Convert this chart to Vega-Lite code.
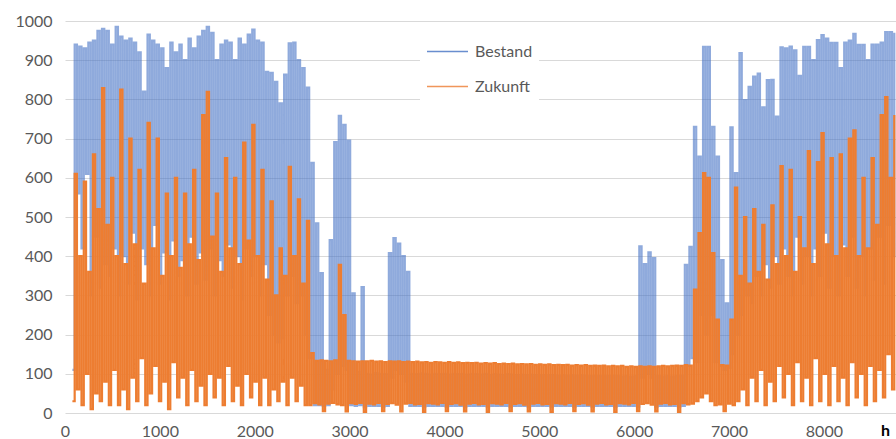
{
"$schema":"https://vega.github.io/schema/vega-lite/v6.json",
"width":831,"height":392,"autosize":"none",
"padding":{"left":65,"top":21,"right":0,"bottom":26},
"background":"white",
"config":{"view":{"stroke":null},"font":"Lato",
"axis":{"labelFont":"Lato","labelFontSize":16,"labelColor":"#595959","domain":false,"ticks":false,"gridColor":"#d9d9d9","gridWidth":1.2,"format":"d","labelOverlap":false}},
"data":{"values":[
{"h":78,"B":110,"Z":30},{"h":102,"B":940,"Z":610},{"h":126,"B":560,"Z":60},{"h":150,"B":935,"Z":400},{"h":174,"B":420,"Z":20},{"h":198,"B":930,"Z":590},{"h":222,"B":610,"Z":100},{"h":246,"B":945,"Z":360},{"h":270,"B":300,"Z":10},{"h":294,"B":950,"Z":660},
{"h":318,"B":450,"Z":50},{"h":342,"B":975,"Z":520},{"h":366,"B":320,"Z":30},{"h":390,"B":980,"Z":829},{"h":414,"B":380,"Z":80},{"h":438,"B":975,"Z":480},{"h":462,"B":350,"Z":20},{"h":486,"B":940,"Z":600},{"h":510,"B":420,"Z":110},{"h":534,"B":985,"Z":400},
{"h":558,"B":300,"Z":20},{"h":582,"B":960,"Z":825},{"h":606,"B":400,"Z":60},{"h":630,"B":950,"Z":380},{"h":654,"B":330,"Z":10},{"h":678,"B":955,"Z":700},{"h":702,"B":460,"Z":90},{"h":726,"B":945,"Z":430},{"h":750,"B":290,"Z":30},{"h":774,"B":920,"Z":620},
{"h":798,"B":420,"Z":140},{"h":822,"B":820,"Z":330},{"h":846,"B":380,"Z":20},{"h":870,"B":965,"Z":740},{"h":894,"B":300,"Z":50},{"h":918,"B":950,"Z":420},{"h":942,"B":480,"Z":120},{"h":966,"B":940,"Z":700},{"h":990,"B":330,"Z":30},{"h":1014,"B":930,"Z":350},
{"h":1038,"B":410,"Z":80},{"h":1062,"B":880,"Z":560},{"h":1086,"B":290,"Z":10},{"h":1110,"B":945,"Z":400},{"h":1134,"B":440,"Z":130},{"h":1158,"B":920,"Z":600},{"h":1182,"B":350,"Z":40},{"h":1206,"B":940,"Z":370},{"h":1230,"B":390,"Z":90},{"h":1254,"B":900,"Z":560},
{"h":1278,"B":300,"Z":20},{"h":1302,"B":955,"Z":430},{"h":1326,"B":450,"Z":110},{"h":1350,"B":930,"Z":620},{"h":1374,"B":330,"Z":30},{"h":1398,"B":960,"Z":390},{"h":1422,"B":410,"Z":70},{"h":1446,"B":975,"Z":760},{"h":1470,"B":340,"Z":20},{"h":1494,"B":985,"Z":819},
{"h":1518,"B":420,"Z":100},{"h":1542,"B":970,"Z":450},{"h":1566,"B":300,"Z":40},{"h":1590,"B":900,"Z":560},{"h":1614,"B":390,"Z":90},{"h":1638,"B":940,"Z":360},{"h":1662,"B":350,"Z":20},{"h":1686,"B":950,"Z":650},{"h":1710,"B":430,"Z":120},{"h":1734,"B":945,"Z":420},
{"h":1758,"B":320,"Z":30},{"h":1782,"B":900,"Z":600},{"h":1806,"B":400,"Z":70},{"h":1830,"B":955,"Z":380},{"h":1854,"B":290,"Z":20},{"h":1878,"B":940,"Z":690},{"h":1902,"B":420,"Z":100},{"h":1926,"B":965,"Z":440},{"h":1950,"B":350,"Z":40},{"h":1974,"B":978,"Z":735},
{"h":1998,"B":400,"Z":80},{"h":2022,"B":950,"Z":400},{"h":2046,"B":300,"Z":20},{"h":2070,"B":945,"Z":620},{"h":2094,"B":380,"Z":90},{"h":2118,"B":870,"Z":340},{"h":2142,"B":250,"Z":20},{"h":2166,"B":868,"Z":540},{"h":2190,"B":200,"Z":60},{"h":2214,"B":845,"Z":300},
{"h":2238,"B":180,"Z":30},{"h":2262,"B":790,"Z":420},{"h":2286,"B":190,"Z":80},{"h":2310,"B":863,"Z":350},{"h":2334,"B":300,"Z":20},{"h":2358,"B":943,"Z":628},{"h":2382,"B":350,"Z":90},{"h":2406,"B":945,"Z":400},{"h":2430,"B":280,"Z":30},{"h":2454,"B":900,"Z":545},
{"h":2478,"B":300,"Z":70},{"h":2502,"B":880,"Z":330},{"h":2526,"B":200,"Z":20},{"h":2550,"B":830,"Z":490},{"h":2574,"B":140,"Z":20},{"h":2598,"B":638,"Z":153},{"h":2622,"B":20,"Z":25},{"h":2646,"B":484,"Z":133},{"h":2670,"B":20,"Z":22},{"h":2694,"B":357,"Z":134},
{"h":2718,"B":18,"Z":5},{"h":2742,"B":110,"Z":133},{"h":2766,"B":20,"Z":24},{"h":2790,"B":441,"Z":132},{"h":2814,"B":60,"Z":26},{"h":2838,"B":691,"Z":134},{"h":2862,"B":100,"Z":22},{"h":2886,"B":758,"Z":378},{"h":2910,"B":120,"Z":20},{"h":2934,"B":735,"Z":250},
{"h":2958,"B":110,"Z":4},{"h":2982,"B":695,"Z":133},{"h":3006,"B":20,"Z":25},{"h":3030,"B":305,"Z":132},{"h":3054,"B":18,"Z":23},{"h":3078,"B":105,"Z":131},{"h":3102,"B":20,"Z":26},{"h":3126,"B":321,"Z":132},{"h":3150,"B":15,"Z":3},
{"h":3174,"B":100,"Z":132},{"h":3198,"B":18,"Z":24},{"h":3222,"B":98,"Z":133},{"h":3246,"B":18,"Z":22},{"h":3270,"B":102,"Z":131},{"h":3294,"B":18,"Z":26},{"h":3318,"B":100,"Z":132},{"h":3342,"B":16,"Z":5},{"h":3366,"B":99,"Z":130},{"h":3390,"B":18,"Z":23},
{"h":3414,"B":408,"Z":132},{"h":3438,"B":90,"Z":25},{"h":3462,"B":446,"Z":131},{"h":3486,"B":110,"Z":21},{"h":3510,"B":432,"Z":132},{"h":3534,"B":100,"Z":4},{"h":3558,"B":400,"Z":130},{"h":3582,"B":80,"Z":24},{"h":3606,"B":360,"Z":131},{"h":3630,"B":18,"Z":26},
{"h":3654,"B":100,"Z":130},{"h":3678,"B":18,"Z":22},{"h":3702,"B":99,"Z":131},{"h":3726,"B":18,"Z":23},{"h":3750,"B":101,"Z":129},{"h":3774,"B":16,"Z":3},{"h":3798,"B":100,"Z":130},{"h":3822,"B":18,"Z":25},{"h":3846,"B":98,"Z":128},{"h":3870,"B":18,"Z":24},
{"h":3894,"B":100,"Z":130},{"h":3918,"B":18,"Z":22},{"h":3942,"B":99,"Z":129},{"h":3966,"B":18,"Z":26},{"h":3990,"B":100,"Z":128},{"h":4014,"B":16,"Z":5},{"h":4038,"B":98,"Z":130},{"h":4062,"B":18,"Z":23},{"h":4086,"B":100,"Z":128},{"h":4110,"B":18,"Z":25},
{"h":4134,"B":99,"Z":129},{"h":4158,"B":18,"Z":21},{"h":4182,"B":100,"Z":127},{"h":4206,"B":16,"Z":4},{"h":4230,"B":98,"Z":128},{"h":4254,"B":18,"Z":24},{"h":4278,"B":100,"Z":127},{"h":4302,"B":18,"Z":26},{"h":4326,"B":99,"Z":128},{"h":4350,"B":18,"Z":22},
{"h":4374,"B":98,"Z":126},{"h":4398,"B":18,"Z":23},{"h":4422,"B":100,"Z":127},{"h":4446,"B":16,"Z":3},{"h":4470,"B":97,"Z":126},{"h":4494,"B":18,"Z":25},{"h":4518,"B":99,"Z":127},{"h":4542,"B":18,"Z":24},{"h":4566,"B":98,"Z":125},{"h":4590,"B":18,"Z":22},
{"h":4614,"B":97,"Z":126},{"h":4638,"B":18,"Z":26},{"h":4662,"B":99,"Z":125},{"h":4686,"B":16,"Z":5},{"h":4710,"B":98,"Z":126},{"h":4734,"B":18,"Z":23},{"h":4758,"B":97,"Z":124},{"h":4782,"B":18,"Z":25},{"h":4806,"B":98,"Z":125},{"h":4830,"B":18,"Z":21},
{"h":4854,"B":96,"Z":124},{"h":4878,"B":16,"Z":4},{"h":4902,"B":98,"Z":125},{"h":4926,"B":18,"Z":24},{"h":4950,"B":97,"Z":123},{"h":4974,"B":18,"Z":26},{"h":4998,"B":96,"Z":124},{"h":5022,"B":18,"Z":22},{"h":5046,"B":97,"Z":123},{"h":5070,"B":18,"Z":23},
{"h":5094,"B":96,"Z":124},{"h":5118,"B":16,"Z":3},{"h":5142,"B":97,"Z":122},{"h":5166,"B":18,"Z":25},{"h":5190,"B":95,"Z":123},{"h":5214,"B":18,"Z":24},{"h":5238,"B":96,"Z":122},{"h":5262,"B":18,"Z":22},{"h":5286,"B":95,"Z":123},{"h":5310,"B":18,"Z":26},
{"h":5334,"B":96,"Z":121},{"h":5358,"B":16,"Z":5},{"h":5382,"B":95,"Z":122},{"h":5406,"B":18,"Z":23},{"h":5430,"B":96,"Z":121},{"h":5454,"B":18,"Z":25},{"h":5478,"B":95,"Z":122},{"h":5502,"B":18,"Z":21},{"h":5526,"B":94,"Z":120},{"h":5550,"B":16,"Z":4},
{"h":5574,"B":95,"Z":121},{"h":5598,"B":18,"Z":24},{"h":5622,"B":94,"Z":120},{"h":5646,"B":18,"Z":26},{"h":5670,"B":95,"Z":121},{"h":5694,"B":18,"Z":22},{"h":5718,"B":94,"Z":119},{"h":5742,"B":18,"Z":23},{"h":5766,"B":95,"Z":120},{"h":5790,"B":16,"Z":3},
{"h":5814,"B":94,"Z":119},{"h":5838,"B":18,"Z":25},{"h":5862,"B":93,"Z":120},{"h":5886,"B":18,"Z":24},{"h":5910,"B":94,"Z":118},{"h":5934,"B":18,"Z":22},{"h":5958,"B":93,"Z":119},{"h":5982,"B":18,"Z":26},{"h":6006,"B":94,"Z":118},{"h":6030,"B":16,"Z":5},
{"h":6054,"B":425,"Z":119},{"h":6078,"B":90,"Z":23},{"h":6102,"B":380,"Z":118},{"h":6126,"B":100,"Z":25},{"h":6150,"B":410,"Z":119},{"h":6174,"B":90,"Z":21},{"h":6198,"B":395,"Z":118},{"h":6222,"B":16,"Z":4},{"h":6246,"B":94,"Z":119},{"h":6270,"B":18,"Z":24},
{"h":6294,"B":93,"Z":120},{"h":6318,"B":18,"Z":26},{"h":6342,"B":94,"Z":119},{"h":6366,"B":18,"Z":22},{"h":6390,"B":93,"Z":120},{"h":6414,"B":18,"Z":23},{"h":6438,"B":94,"Z":121},{"h":6462,"B":16,"Z":3},{"h":6486,"B":95,"Z":120},{"h":6510,"B":18,"Z":25},
{"h":6534,"B":378,"Z":122},{"h":6558,"B":120,"Z":22},{"h":6582,"B":424,"Z":121},{"h":6606,"B":140,"Z":24},{"h":6630,"B":730,"Z":315},{"h":6654,"B":130,"Z":30},{"h":6678,"B":654,"Z":459},{"h":6702,"B":250,"Z":40},{"h":6726,"B":934,"Z":612},{"h":6750,"B":200,"Z":50},
{"h":6774,"B":934,"Z":600},{"h":6798,"B":250,"Z":30},{"h":6822,"B":730,"Z":408},{"h":6846,"B":130,"Z":20},{"h":6870,"B":654,"Z":238},{"h":6894,"B":120,"Z":22},{"h":6918,"B":390,"Z":122},{"h":6942,"B":110,"Z":5},{"h":6966,"B":280,"Z":121},{"h":6990,"B":115,"Z":24},
{"h":7014,"B":729,"Z":238},{"h":7038,"B":150,"Z":20},{"h":7062,"B":612,"Z":575},{"h":7086,"B":200,"Z":30},{"h":7110,"B":918,"Z":350},{"h":7134,"B":250,"Z":60},{"h":7158,"B":798,"Z":500},{"h":7182,"B":300,"Z":20},{"h":7206,"B":832,"Z":330},{"h":7230,"B":280,"Z":90},
{"h":7254,"B":858,"Z":520},{"h":7278,"B":350,"Z":30},{"h":7302,"B":866,"Z":360},{"h":7326,"B":300,"Z":110},{"h":7350,"B":780,"Z":480},{"h":7374,"B":380,"Z":20},{"h":7398,"B":849,"Z":340},{"h":7422,"B":320,"Z":80},{"h":7446,"B":850,"Z":530},{"h":7470,"B":400,"Z":30},
{"h":7494,"B":756,"Z":380},{"h":7518,"B":330,"Z":120},{"h":7542,"B":933,"Z":630},{"h":7566,"B":420,"Z":40},{"h":7590,"B":930,"Z":400},{"h":7614,"B":350,"Z":100},{"h":7638,"B":935,"Z":620},{"h":7662,"B":300,"Z":20},{"h":7686,"B":925,"Z":360},{"h":7710,"B":450,"Z":130},
{"h":7734,"B":860,"Z":500},{"h":7758,"B":330,"Z":30},{"h":7782,"B":934,"Z":420},{"h":7806,"B":400,"Z":90},{"h":7830,"B":934,"Z":668},{"h":7854,"B":300,"Z":20},{"h":7878,"B":900,"Z":380},{"h":7902,"B":420,"Z":140},{"h":7926,"B":951,"Z":640},{"h":7950,"B":350,"Z":30},
{"h":7974,"B":964,"Z":714},{"h":7998,"B":460,"Z":100},{"h":8022,"B":955,"Z":430},{"h":8046,"B":320,"Z":20},{"h":8070,"B":944,"Z":650},{"h":8094,"B":400,"Z":120},{"h":8118,"B":944,"Z":400},{"h":8142,"B":300,"Z":30},{"h":8166,"B":880,"Z":660},{"h":8190,"B":430,"Z":90},
{"h":8214,"B":945,"Z":420},{"h":8238,"B":350,"Z":20},{"h":8262,"B":950,"Z":700},{"h":8286,"B":450,"Z":130},{"h":8310,"B":967,"Z":721},{"h":8334,"B":320,"Z":40},{"h":8358,"B":939,"Z":400},{"h":8382,"B":400,"Z":100},{"h":8406,"B":939,"Z":600},{"h":8430,"B":300,"Z":20},
{"h":8454,"B":900,"Z":420},{"h":8478,"B":420,"Z":120},{"h":8502,"B":940,"Z":650},{"h":8526,"B":340,"Z":30},{"h":8550,"B":940,"Z":480},{"h":8574,"B":450,"Z":110},{"h":8598,"B":945,"Z":760},{"h":8622,"B":330,"Z":40},{"h":8646,"B":972,"Z":806},{"h":8670,"B":480,"Z":150},
{"h":8694,"B":972,"Z":600},{"h":8718,"B":400,"Z":60},{"h":8742,"B":970,"Z":760}
]},
"encoding":{
"x":{"field":"h","type":"quantitative","scale":{"domain":[0,8760],"nice":false,"zero":false},
"axis":{"values":[0,1000,2000,3000,4000,5000,6000,7000,8000],"grid":false,"labelPadding":10,"labelFlush":false,"title":"h","titleFont":"Lato","titleFontSize":16,"titleFontWeight":"bold","titleColor":"#000000","titleX":820,"titleY":17,"titleAlign":"center","titleBaseline":"middle","titleAnchor":null}}
},
"layer":[
{"mark":{"type":"line","strokeWidth":2.2,"strokeOpacity":0.6,"interpolate":"step-after"},
"encoding":{
"y":{"field":"B","type":"quantitative","scale":{"domain":[0,1000],"nice":false},"axis":{"values":[0,100,200,300,400,500,600,700,800,900,1000],"tickCount":11,"labelOverlap":false,"grid":true,"labelPadding":13,"title":null}},
"color":{"datum":"Bestand","type":"nominal","scale":{"domain":["Bestand","Zukunft"],"range":["#4472C4","#ED7D31"]},
"legend":{"title":null,"orient":"none","legendX":355,"legendY":3,"fillColor":"white","padding":6,"symbolType":"stroke","symbolSize":1681,"symbolStrokeWidth":1.5,"symbolOpacity":0.8,"labelFont":"Lato","labelFontSize":16,"labelColor":"#595959","labelOffset":6,"rowPadding":5}}}},
{"mark":{"type":"line","strokeWidth":2.2,"interpolate":"step-after"},
"encoding":{
"y":{"field":"Z","type":"quantitative","axis":{"values":[0,100,200,300,400,500,600,700,800,900,1000],"tickCount":11,"labelOverlap":false,"grid":true,"labelPadding":13,"title":null}},
"color":{"datum":"Zukunft","type":"nominal"}}}
]
}
